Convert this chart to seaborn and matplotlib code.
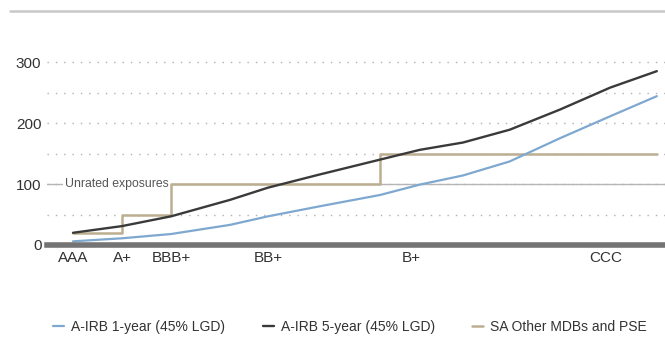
import seaborn as sns
import matplotlib.pyplot as plt
from matplotlib.lines import Line2D

# rating scale positions (0 = AAA, 100 = end of the curves)
ratings = ["AAA", "A+", "BBB+", "BB+", "B+", "CCC"]
rating_pos = [0, 8.4, 16.8, 33.4, 58.0, 91.3]

# risk weights (%)
x_pos = [0, 8.4, 16.8, 26.9, 33.4, 42.0, 52.6, 59.4, 66.8, 74.8, 83.4, 92.0, 100]
irb_1y = [6, 11, 18, 33, 47, 63, 82, 99, 114, 137, 175, 211, 244]
irb_5y = [20, 31, 47, 74, 94, 115, 140, 156, 168, 189, 222, 258, 285]

sa_x = [0, 8.4, 16.8, 52.6, 100]
sa_rw = [20, 50, 100, 150, 150]
unrated_rw = 100

blue = "#7ea8cf"
dark = "#3a3a3a"
tan = "#bcae90"

sns.set_theme(style="white")
plt.rcParams["font.family"] = ["Liberation Sans", "DejaVu Sans"]

fig = plt.figure(figsize=(6.65, 3.39), dpi=100)
ax = fig.add_axes([47 / 665, 1 - 250 / 339, 618 / 665, 200 / 339])

# dotted gridlines every 50
ax.set_yticks([0, 100, 200, 300])
ax.set_yticks([50, 150, 250], minor=True)
ax.grid(axis="y", which="both", color="#b0b0b0", linestyle=(0, (1, 5)), linewidth=1)
ax.set_axisbelow(True)

# unrated exposures reference line
ax.axhline(unrated_rw, color="#b5b5b5", linewidth=1, zorder=1)
ax.text(-1.4, unrated_rw, "Unrated exposures", va="center", ha="left",
        fontsize=8.8, color="#555555",
        bbox=dict(facecolor="white", edgecolor="none", pad=1.5), zorder=2)

sns.lineplot(x=sa_x, y=sa_rw, ax=ax, color=tan, linewidth=1.8,
             drawstyle="steps-post", label="SA Other MDBs and PSE", zorder=3)
sns.lineplot(x=x_pos, y=irb_1y, ax=ax, color=blue, linewidth=1.6,
             label="A-IRB 1-year (45% LGD)", zorder=4)
sns.lineplot(x=x_pos, y=irb_5y, ax=ax, color=dark, linewidth=1.7,
             label="A-IRB 5-year (45% LGD)", zorder=4)

ax.set_xlim(-4.45, 101.4)
ax.set_ylim(-8.2, 319.7)
ax.set_xticks(rating_pos)
ax.set_xticklabels(ratings)
ax.set_xlabel("")
ax.set_ylabel("")

for s in ["top", "right", "left"]:
    ax.spines[s].set_visible(False)
ax.spines["bottom"].set_position(("data", 0))
ax.spines["bottom"].set_color("#747474")
ax.spines["bottom"].set_linewidth(4)
ax.spines["bottom"].set_zorder(5)

ax.tick_params(axis="both", which="both", length=0, labelsize=11, colors="#333333")
ax.tick_params(axis="y", pad=4)
ax.tick_params(axis="x", pad=4)

ax.get_legend().remove()
handles = [Line2D([], [], color=blue, lw=1.6),
           Line2D([], [], color=dark, lw=1.7),
           Line2D([], [], color=tan, lw=1.8)]
labels = ["A-IRB 1-year (45% LGD)", "A-IRB 5-year (45% LGD)", "SA Other MDBs and PSE"]
fig.legend(handles, labels, loc="center", bbox_to_anchor=(350 / 665, 1 - 327 / 339),
           ncol=3, frameon=False, fontsize=10, handlelength=0.8, handletextpad=0.5,
           columnspacing=2.7, labelcolor="#333333")

# header rule
fig.add_artist(Line2D([10 / 665, 1], [1 - 11 / 339] * 2, color="#c8c8c8", lw=1.8))

fig.savefig("out.png", dpi=100)
